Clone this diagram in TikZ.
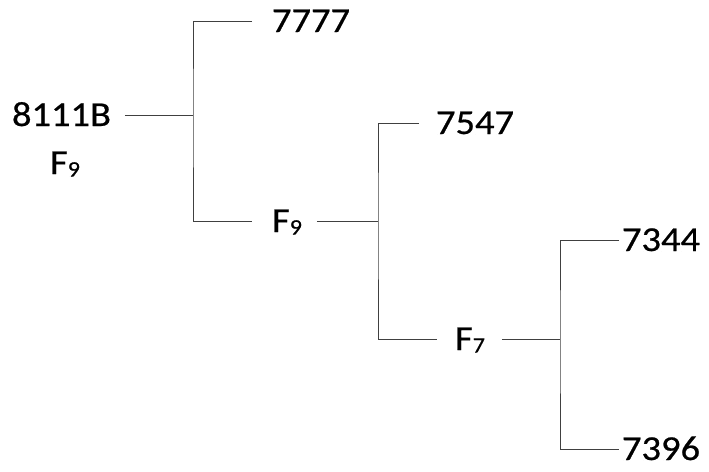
\documentclass[tikz,border=0pt]{standalone}
\usepackage{fontspec}
\setmainfont{Carlito}[FakeStretch=1.1,FakeBold=0.6]
\usetikzlibrary{positioning}
\tikzset{
  treelabel/.style={font=\fontsize{35}{40}\selectfont,text=black,inner sep=0pt,outer sep=0pt,
    anchor=west,text height=22pt,text depth=0pt},
  treebranch/.style={draw=black!75,line width=0.9pt},
}
\newcommand{\subidx}[1]{\raisebox{-2.5pt}{\fontsize{22}{24}\selectfont#1}}

\begin{document}
\begin{tikzpicture}[x=1pt,y=-1pt]
\useasboundingbox (0,0) rectangle (709,471);

% Labels.
\node[treelabel] (root) at (12,115) {8111B};
\node[treelabel] (rootF) at (50,163) {F\subidx{9}};
\node[treelabel] (n7777) at (272,21) {7777};
\node[treelabel] (fnine) at (272,221) {F\subidx{9}};
\node[treelabel] (n7547) at (436,123) {7547};
\node[treelabel] (fseven) at (455,339) {F\subidx{7}};
\node[treelabel] (n7344) at (622,240) {7344};
\node[treelabel] (n7396) at (622,449) {7396};

% Junctions.
\coordinate (jone) at (193,115);
\coordinate (jtwo) at (378,221);
\coordinate (jthree) at (560,339);

% Branches.
\draw[treebranch,shorten <=14pt] (root.east) -- (jone);
\draw[treebranch,shorten <=20pt,shorten >=20pt] (n7777.west) -| (jone) |- (fnine.west);
\draw[treebranch,shorten <=15pt] (fnine.east) -- (jtwo);
\draw[treebranch,shorten <=17pt,shorten >=18pt] (n7547.west) -| (jtwo) |- (fseven.west);
\draw[treebranch,shorten <=17pt] (fseven.east) -- (jthree);
\draw[treebranch,shorten <=3pt,shorten >=3pt] (n7344.west) -| (jthree) |- (n7396.west);
\end{tikzpicture}
\end{document}
